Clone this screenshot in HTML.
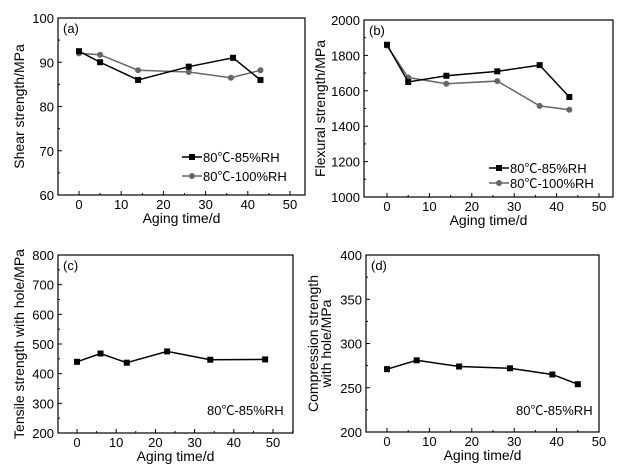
<!DOCTYPE html>
<html><head><meta charset="utf-8"><style>
body{margin:0;background:#fff;}
svg{display:block;font-family:"Liberation Sans","Noto Sans CJK SC",sans-serif;}
</style></head><body>
<svg id="c" width="624" height="466"></svg>
<script>
const aX85=[0,5,14,26,36.5,43], aY85=[92.5,90,86,89,91,86];
const aX100=[0,5,14,26,36,43], aY100=[92,91.7,88.2,87.8,86.5,88.2];
const bX85=[0,5,14,26,36,43], bY85=[1860,1650,1685,1710,1745,1565];
const bX100=[0,5,14,26,36,43], bY100=[1855,1675,1640,1655,1515,1493];
const cX=[0,6,12.7,23,34,48], cY=[440,468,437,475,447,448];
const dX=[0,7,17,29,39,45], dY=[271,281,274,272,265,254];
const xTicks=[0,10,20,30,40,50];
const aTicks=[60,70,80,90,100], bTicks=[1000,1200,1400,1600,1800,2000];
const cTicks=[200,300,400,500,600,700,800], dTicks=[200,250,300,350,400];

const svg=document.getElementById('c');
const NS='http://www.w3.org/2000/svg';
function mk(t,a,p){const e=document.createElementNS(NS,t);for(const k in a)e.setAttribute(k,a[k]);(p||svg).appendChild(e);return e;}
function txt(s,a,p){const e=mk('text',a,p);e.textContent=s;return e;}

function panel(o){
  const g=mk('g',{});
  
  
  const sx=v=>o.x0+(v-0)*(o.x50-o.x0)/50;
  const sy=v=>o.b-(v-o.yt[0])*(o.b-o.t)/(o.yt[o.yt.length-1]-o.yt[0]);
  const box=mk('rect',{x:o.l,y:o.t,width:o.r-o.l,height:o.b-o.t,fill:'none',stroke:'#000','stroke-width':1.2},g);
  
  xTicks.forEach(v=>{const x=sx(v);
    mk('line',{x1:x,x2:x,y1:o.b,y2:o.b-4,stroke:'#000'},g);
    const h=sx(v+5); if(h<o.r) mk('line',{x1:h,x2:h,y1:o.b,y2:o.b-2,stroke:'#000'},g);
    const t=txt(v,{x:x,y:o.b+14,'font-size':13,'text-anchor':'middle'},g);
    });
  o.yt.forEach((v,i)=>{const y=sy(v);
    mk('line',{x1:o.l,x2:o.l+4,y1:y,y2:y,stroke:'#000'},g);
    if(i<o.yt.length-1){const m=(sy(v)+sy(o.yt[i+1]))/2;mk('line',{x1:o.l,x2:o.l+2,y1:m,y2:m,stroke:'#000'},g);}
    const t=txt(v,{x:o.l-4,y:y+5,'font-size':13,'text-anchor':'end'},g);
    });
  const xt=txt('Aging time/d',{x:(o.l+o.r)/2,y:o.b+28,'font-size':14,'text-anchor':'middle'},g);
  
  o.ytitle.forEach((s,i)=>{const yt=txt(s,{x:0,y:0,'font-size':14,'text-anchor':'middle',transform:`translate(${o.ytx+i*13},${(o.t+o.b)/2}) rotate(-90)`},g);
    });
  const pl=txt(o.label,{x:o.l+5,y:o.t+15,'font-size':13},g);
  
  o.series.forEach(s=>{
    const pts=s.x.map((v,i)=>sx(v)+','+sy(s.y[i])).join(' ');
    const ln=mk('polyline',{points:pts,fill:'none',stroke:s.c,'stroke-width':1.5},g);
    
    s.x.forEach((v,i)=>{let m;
      if(s.m==='sq') m=mk('rect',{x:sx(v)-3,y:sy(s.y[i])-3,width:6,height:6,fill:s.c},g);
      else m=mk('circle',{cx:sx(v),cy:sy(s.y[i]),r:3,fill:s.c},g);
      });
  });
  o.legend.forEach((L,i)=>{const y=o.ly+i*o.ls;
    if(L.c){mk('line',{x1:o.lx,x2:o.lx+20,y1:y,y2:y,stroke:L.c,'stroke-width':1.5},g);
      if(L.m==='sq')mk('rect',{x:o.lx+7,y:y-3,width:6,height:6,fill:L.c},g);else mk('circle',{cx:o.lx+10,cy:y,r:3,fill:L.c},g);}
    const t=txt(L.t,{x:o.lx+(L.c?21:0),y:y+5,'font-size':13},g);
    });
}
const leg=[{t:'80℃-85%RH',c:'#000',m:'sq'},{t:'80℃-100%RH',c:'#666',m:'ci'}];
panel({id:'a',l:58,r:305,t:18,b:195,x0:79,x50:290,yt:aTicks,ytitle:['Shear strength/MPa'],ytx:24,label:'(a)',
  series:[{x:aX100,y:aY100,c:'#666',m:'ci'},{x:aX85,y:aY85,c:'#000',m:'sq'}],legend:leg,lx:182,ly:157,ls:19});
panel({id:'b',l:364,r:613,t:20,b:197,x0:387,x50:599,yt:bTicks,ytitle:['Flexural strength/MPa'],ytx:325,label:'(b)',
  series:[{x:bX100,y:bY100,c:'#666',m:'ci'},{x:bX85,y:bY85,c:'#000',m:'sq'}],legend:leg,lx:489,ly:168,ls:15});
panel({id:'c',l:58,r:293,t:255,b:433,x0:77,x50:273,yt:cTicks,ytitle:['Tensile strength with hole/MPa'],ytx:24,label:'(c)',
  series:[{x:cX,y:cY,c:'#000',m:'sq'}],legend:[{t:'80℃-85%RH'}],lx:207,ly:410,ls:20});
panel({id:'d',l:366,r:599,t:255,b:432,x0:387,x50:599,yt:dTicks,ytitle:['Compression strength','with hole/MPa'],ytx:318,label:'(d)',
  series:[{x:dX,y:dY,c:'#000',m:'sq'}],legend:[{t:'80℃-85%RH'}],lx:516,ly:410,ls:20});
</script>
</body></html>
